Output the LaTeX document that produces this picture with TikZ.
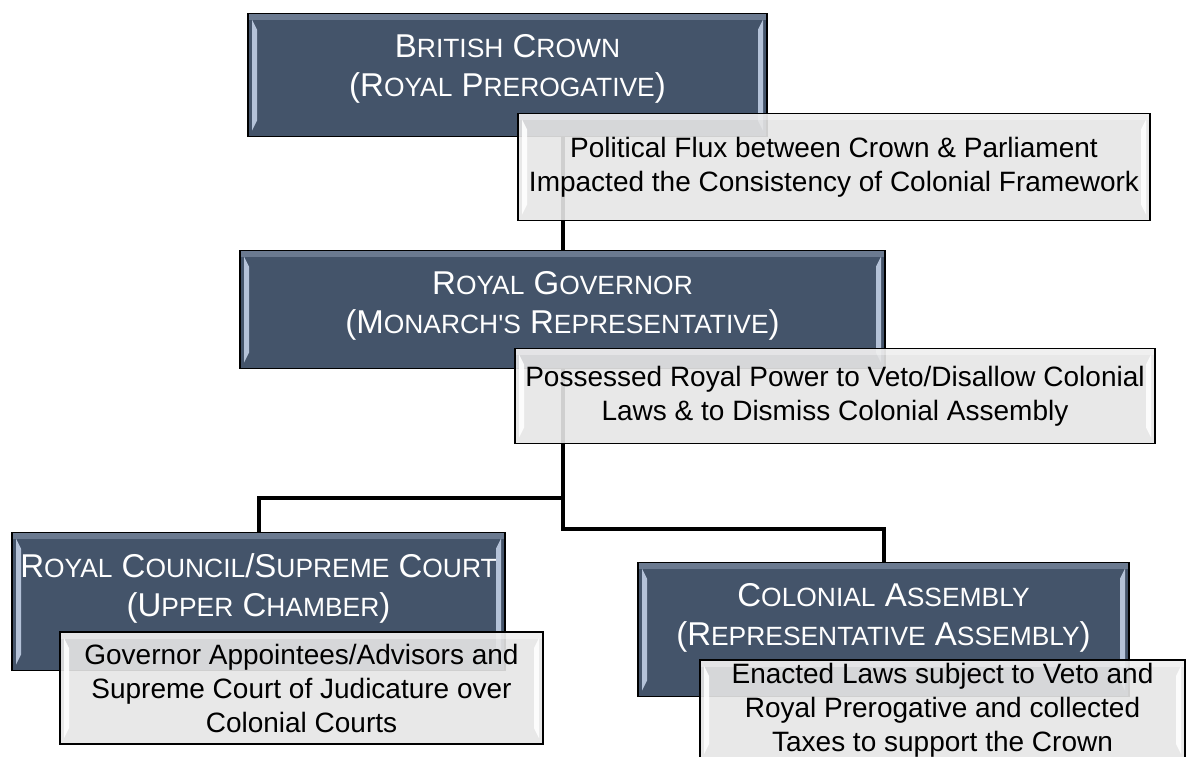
\documentclass[tikz,border=0pt]{standalone}
\usepackage{fontspec}
\setmainfont{Liberation Sans}
\usetikzlibrary{backgrounds}

\definecolor{slate}{HTML}{44546A}
\definecolor{slatelight}{HTML}{7D8BA1}
\definecolor{bevelblue}{HTML}{B4C2D8}
\definecolor{notegray}{HTML}{E6E6E6}

% small capitals, faked from the upper case
\newcommand\smc[1]{{\fontsize{13.2}{19.5}\selectfont #1}}

\tikzset{
  strips/.style={path picture={
      \shade[top color=#1, bottom color=#1, opacity=.35]
        (path picture bounding box.north west) rectangle
        ([yshift=-3pt]path picture bounding box.north east);
      \fill[#1] ([shift={(2pt,-3pt)}]path picture bounding box.north west)
        -- ([shift={(4.5pt,-8pt)}]path picture bounding box.north west)
        -- ([shift={(4.5pt,8pt)}]path picture bounding box.south west)
        -- ([shift={(2pt,3pt)}]path picture bounding box.south west) -- cycle;
      \fill[#1] ([shift={(-2pt,-3pt)}]path picture bounding box.north east)
        -- ([shift={(-4.5pt,-8pt)}]path picture bounding box.north east)
        -- ([shift={(-4.5pt,8pt)}]path picture bounding box.south east)
        -- ([shift={(-2pt,3pt)}]path picture bounding box.south east) -- cycle;
    }},
  darkbox/.style={draw=black, line width=.6pt, fill=slate, text=white,
    anchor=north, align=center, inner xsep=0pt, inner ysep=10.5pt,
    font=\fontsize{16.5}{19.5}\selectfont, strips=bevelblue},
  notebox/.style={draw=black, line width=.6pt, fill=notegray, fill opacity=.9,
    text opacity=1, align=center, inner sep=0pt,
    font=\fontsize{14}{17}\selectfont, strips=white},
  link/.style={line width=2pt}
}

\begin{document}
\begin{tikzpicture}[x=.5pt, y=-.5pt]
  \useasboundingbox (0,0) rectangle (1189,756);

  % crown
  \node[darkbox, minimum width=259.5pt, text depth=9.5pt] (crown) at (507.5,13)
    {B\smc{RITISH} C\smc{ROWN}\\(R\smc{OYAL} P\smc{REROGATIVE})};
  \node[notebox, minimum width=316pt, minimum height=53.5pt] (flux) at (834,167)
    {Political Flux between Crown \& Parliament\\Impacted the Consistency of Colonial Framework};

  % governor
  \node[darkbox, minimum width=322.5pt, text depth=7pt] (governor) at (562.5,250)
    {R\smc{OYAL} G\smc{OVERNOR}\\(M\smc{ONARCH\textquotesingle S} R\smc{EPRESENTATIVE})};
  \node[notebox, minimum width=320pt, minimum height=47.5pt] (veto) at (835,396)
    {Possessed Royal Power to Veto/Disallow Colonial\\Laws \& to Dismiss Colonial Assembly};

  % council and assembly
  \node[darkbox, minimum width=246.5pt, text depth=16.5pt] (council) at (258.5,532)
    {R\smc{OYAL} C\smc{OUNCIL}/S\smc{UPREME} C\smc{OURT}\\(U\smc{PPER} C\smc{HAMBER})};
  \node[notebox, minimum width=241.5pt, minimum height=56pt] (judges) at (301.5,688)
    {Governor Appointees/Advisors and\\Supreme Court of Judicature over\\Colonial Courts};
  \node[darkbox, minimum width=245.5pt, text depth=15pt] (assembly) at (883.5,562)
    {C\smc{OLONIAL} A\smc{SSEMBLY}\\(R\smc{EPRESENTATIVE} A\smc{SSEMBLY})};
  \node[notebox, minimum width=242.5pt, minimum height=50pt] (taxes) at (942.5,710)
    {Enacted Laws subject to Veto and\\Royal Prerogative and collected\\Taxes to support the Crown};

  \begin{scope}[on background layer]
    \draw[link] (governor.north) -- (governor.north |- crown.south);
    \draw[link] (governor.south) -- ++(0,129) -| (council.north);
    \draw[link] (governor.south) -- ++(0,160) -| (assembly.north);
  \end{scope}
\end{tikzpicture}
\end{document}
